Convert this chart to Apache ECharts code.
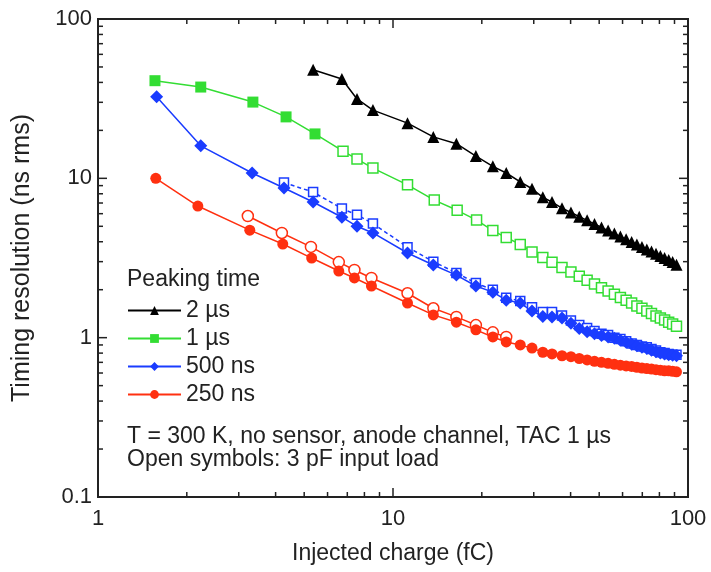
<!DOCTYPE html>
<html><head><meta charset="utf-8">
<script src="https://cdn.jsdelivr.net/npm/echarts@6/dist/echarts.min.js"></script>
<style>html,body{margin:0;padding:0;background:#fff}#c{width:711px;height:572px}</style>
</head><body><div id="c"></div>
<script>
// ---- data ----
const x2us = [5.36, 6.71, 7.55, 8.55, 11.2, 13.7, 16.4, 19.1, 21.8, 24.2, 27, 29.6, 32.2, 34.6, 37.4, 40.1, 42.8, 45.5, 48.2, 50.9, 53.6, 56.3, 59, 61.7, 64.4, 67.1, 69.8, 72.5, 75.2, 77.9, 80.6, 83.3, 86, 88.7, 91.4];
const y2us = [48, 42, 31.5, 26.8, 22.2, 18.2, 16.5, 13.8, 11.9, 10.8, 9.5, 8.6, 7.6, 7.1, 6.5, 6.1, 5.75, 5.45, 5.17, 4.92, 4.7, 4.5, 4.31, 4.14, 3.99, 3.84, 3.71, 3.58, 3.47, 3.36, 3.26, 3.16, 3.07, 2.98, 2.87];

const x1usFilled = [1.56, 2.23, 3.35, 4.34, 5.44];
const y1usFilled = [41, 37.4, 30.1, 24.3, 19];
const x1usOpen = [6.77, 7.55, 8.55, 11.2, 13.8, 16.5, 19.2, 21.8, 24.2, 27, 29.6, 32.2, 34.6, 37.4, 40.1, 42.8, 45.5, 48.2, 50.9, 53.6, 56.3, 59, 61.7, 64.4, 67.1, 69.8, 72.5, 75.2, 77.9, 80.6, 83.3, 86, 88.7, 91.4];
const y1usOpen = [14.8, 13.2, 11.6, 9.1, 7.3, 6.3, 5.47, 4.7, 4.25, 3.85, 3.45, 3.18, 2.97, 2.76, 2.58, 2.43, 2.29, 2.17, 2.06, 1.96, 1.87, 1.79, 1.72, 1.65, 1.58, 1.53, 1.47, 1.42, 1.37, 1.33, 1.29, 1.25, 1.22, 1.18];

const x500Filled = [1.58, 2.23, 3.33, 4.27, 5.36, 6.71, 7.55, 8.55, 11.2, 13.7, 16.4, 19.1, 21.8, 24.2, 27, 29.6, 32.2, 34.6, 37.4, 40.1, 42.8, 45.5, 48.2, 50.9, 53.6, 56.3, 59, 61.7, 64.4, 67.1, 69.8, 72.5, 75.2, 77.9, 80.6, 83.3, 86, 88.7, 91.4];
const y500Filled = [32.5, 16, 10.8, 8.7, 7.1, 5.7, 5.0, 4.54, 3.4, 2.86, 2.47, 2.11, 1.93, 1.72, 1.65, 1.47, 1.36, 1.35, 1.33, 1.23, 1.14, 1.09, 1.06, 1.03, 1.01, 0.99, 0.965, 0.935, 0.91, 0.89, 0.87, 0.855, 0.835, 0.815, 0.80, 0.79, 0.78, 0.775, 0.77];
const x500Open = [4.27, 5.36, 6.71, 7.55, 8.55, 11.2, 13.7, 16.4, 19.1, 21.8, 24.2, 27, 29.6, 32.2, 34.6, 37.4, 40.1, 42.8, 45.5, 48.2, 50.9, 53.6, 56.3, 59, 61.7, 64.4, 67.1, 69.8, 72.5, 75.2, 77.9, 80.6, 83.3, 86, 88.7, 91.4];
const y500Open = [9.4, 8.2, 6.46, 5.9, 5.2, 3.7, 3.0, 2.55, 2.2, 2.0, 1.78, 1.7, 1.55, 1.45, 1.45, 1.38, 1.28, 1.2, 1.15, 1.1, 1.06, 1.04, 1.0, 0.98, 0.95, 0.92, 0.9, 0.88, 0.87, 0.85, 0.83, 0.81, 0.8, 0.79, 0.78, 0.78];

const x250Filled = [1.57, 2.18, 3.27, 4.23, 5.3, 6.55, 7.4, 8.45, 11.2, 13.7, 16.4, 19.1, 21.8, 24.2, 27, 29.6, 32.2, 34.6, 37.4, 40.1, 42.8, 45.5, 48.2, 50.9, 53.6, 56.3, 59, 61.7, 64.4, 67.1, 69.8, 72.5, 75.2, 77.9, 80.6, 83.3, 86, 88.7, 91.4];
const y250Filled = [10, 6.7, 4.73, 3.87, 3.16, 2.62, 2.37, 2.11, 1.65, 1.39, 1.25, 1.12, 1.01, 0.94, 0.90, 0.86, 0.81, 0.79, 0.77, 0.76, 0.74, 0.725, 0.71, 0.70, 0.69, 0.68, 0.672, 0.665, 0.66, 0.652, 0.645, 0.64, 0.635, 0.63, 0.625, 0.62, 0.62, 0.615, 0.61];
const x250Open = [3.22, 4.2, 5.27, 6.55, 7.4, 8.45, 11.2, 13.7, 16.4, 19.1, 21.8, 24.2];
const y250Open = [5.8, 4.54, 3.71, 2.98, 2.66, 2.37, 1.9, 1.53, 1.35, 1.2, 1.08, 1.01];

const seriesNames = ['2 µs', '1 µs', '500 ns', '250 ns'];
const xTickMajor = [1, 10, 100];
const xTickMinor = [2, 3, 4, 5, 6, 7, 8, 9, 20, 30, 40, 50, 60, 70, 80, 90];
const yTickMajor = [0.1, 1, 10, 100];
const yTickMinor = [0.2, 0.3, 0.4, 0.5, 0.6, 0.7, 0.8, 0.9, 2, 3, 4, 5, 6, 7, 8, 9, 20, 30, 40, 50, 60, 70, 80, 90];
const legendTitle = 'Peaking time';
const note1 = 'T = 300 K, no sensor, anode channel, TAC 1 µs';
const note2 = 'Open symbols: 3 pF input load';
const xName = 'Injected charge (fC)';
const yName = 'Timing resolution (ns rms)';

// ---- chart ----
const FONT = 'Liberation Sans, Arial, sans-serif';
const C = {k: '#000000', g: '#33dd33', b: '#1a3cff', r: '#ff3010'};
const zip = (xs, ys) => xs.map((x, i) => [x, ys[i]]);

const tickData = [];
xTickMajor.forEach(v => tickData.push([v, 1, 0]));
xTickMinor.forEach(v => tickData.push([v, 1, 1]));
yTickMajor.forEach(v => tickData.push([1, v, 2]));
yTickMinor.forEach(v => tickData.push([1, v, 3]));

function renderTick(params, api) {
  const kind = api.value(2);
  const major = kind === 0 || kind === 2;
  const L = major ? 9 : 5;
  const st = {stroke: '#222', lineWidth: 1.5};
  if (kind < 2) {
    const v = api.value(0);
    const b = api.coord([v, 0.1]), t = api.coord([v, 100]);
    return {type: 'group', children: [
      {type: 'line', shape: {x1: b[0], y1: b[1], x2: b[0], y2: b[1] - L}, style: st},
      {type: 'line', shape: {x1: t[0], y1: t[1], x2: t[0], y2: t[1] + L}, style: st}
    ]};
  } else {
    const v = api.value(1);
    const l = api.coord([1, v]), r = api.coord([100, v]);
    return {type: 'group', children: [
      {type: 'line', shape: {x1: l[0], y1: l[1], x2: l[0] + L, y2: l[1]}, style: st},
      {type: 'line', shape: {x1: r[0], y1: r[1], x2: r[0] - L, y2: r[1]}, style: st}
    ]};
  }
}

const chart = echarts.init(document.getElementById('c'));
const lineBase = {type: 'line', smooth: false, showSymbol: true, z: 3};
chart.setOption({
  animation: false,
  backgroundColor: '#fff',
  grid: {left: 98, right: 23, top: 19, bottom: 75, show: true, borderColor: '#222', borderWidth: 2, backgroundColor: 'transparent'},
  xAxis: {
    type: 'log', min: 1, max: 100, logBase: 10,
    name: xName, nameLocation: 'middle', nameGap: 45,
    nameTextStyle: {fontFamily: FONT, fontSize: 23, color: '#222'},
    axisLine: {show: false}, axisTick: {show: false}, splitLine: {show: false},
    axisLabel: {fontFamily: FONT, fontSize: 22, color: '#222', margin: 11}
  },
  yAxis: {
    type: 'log', min: 0.1, max: 100, logBase: 10,
    name: yName, nameLocation: 'middle', nameGap: 63,
    nameTextStyle: {fontFamily: FONT, fontSize: 25, color: '#222'},
    axisLine: {show: false}, axisTick: {show: false}, splitLine: {show: false},
    axisLabel: {fontFamily: FONT, fontSize: 22, color: '#222', margin: 6,
      formatter: v => String(+v.toPrecision(3))}
  },
  legend: {
    show: true, orient: 'vertical', left: 122, top: 294,
    data: seriesNames, itemWidth: 53, itemHeight: 11, itemGap: 5,
    textStyle: {fontFamily: FONT, fontSize: 23, color: '#222', lineHeight: 23},
    selectedMode: false
  },
  graphic: [
    {type: 'text', left: 127, top: 268, style: {text: legendTitle, font: '23px ' + FONT, fill: '#222'}},
    {type: 'text', left: 127, top: 425, style: {text: note1, font: '23px ' + FONT, fill: '#222'}},
    {type: 'text', left: 127, top: 448, style: {text: note2, font: '23px ' + FONT, fill: '#222'}}
  ],
  series: [
    {type: 'custom', name: 'ticks', data: tickData, renderItem: renderTick, silent: true, clip: false, z: 5, encode: {x: 0, y: 1}},
    Object.assign({}, lineBase, {name: '1 µs (3 pF)', data: [[x1usFilled[4], y1usFilled[4]]].concat(zip(x1usOpen, y1usOpen)).map((p, i) => i === 0 ? {value: p, symbol: 'none'} : p),
      symbol: 'rect', symbolSize: 10, lineStyle: {color: C.g, width: 1.5}, itemStyle: {color: '#fff', borderColor: C.g, borderWidth: 1.5}}),
    Object.assign({}, lineBase, {name: '500 ns (3 pF)', data: zip(x500Open, y500Open),
      symbol: 'rect', symbolSize: 9, lineStyle: {color: C.b, width: 1.5, type: [4, 3]}, itemStyle: {color: '#fff', borderColor: C.b, borderWidth: 1.5}}),
    Object.assign({}, lineBase, {name: '250 ns (3 pF)', data: zip(x250Open, y250Open),
      symbol: 'circle', symbolSize: 11, lineStyle: {color: C.r, width: 1.5}, itemStyle: {color: '#fff', borderColor: C.r, borderWidth: 1.5}}),
    Object.assign({}, lineBase, {name: '2 µs', data: zip(x2us, y2us), symbol: 'triangle', symbolSize: 12,
      lineStyle: {color: C.k, width: 1.5}, itemStyle: {color: C.k}}),
    Object.assign({}, lineBase, {name: '1 µs', data: zip(x1usFilled, y1usFilled), symbol: 'rect', symbolSize: 11,
      lineStyle: {color: C.g, width: 1.5}, itemStyle: {color: C.g}}),
    Object.assign({}, lineBase, {name: '500 ns', data: zip(x500Filled, y500Filled), symbol: 'diamond', symbolSize: 13,
      lineStyle: {color: C.b, width: 1.5}, itemStyle: {color: C.b}}),
    Object.assign({}, lineBase, {name: '250 ns', data: zip(x250Filled, y250Filled), symbol: 'circle', symbolSize: 11,
      lineStyle: {color: C.r, width: 1.5}, itemStyle: {color: C.r}})
  ]
});
</script></body></html>
